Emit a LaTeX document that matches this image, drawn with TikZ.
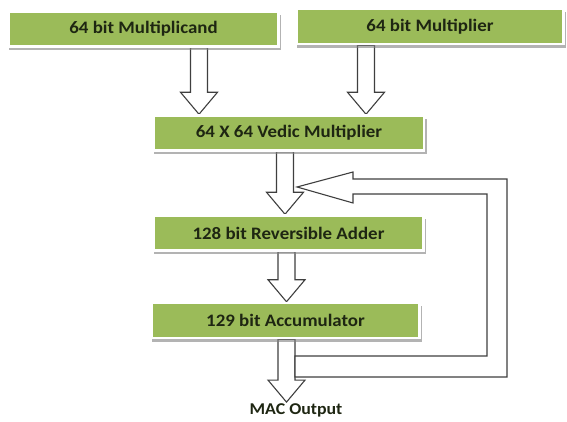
\documentclass[tikz,border=0pt]{standalone}
\usepackage{fontspec}
\setmainfont{Carlito}
\newfontfamily\macfont{Carlito}[FakeStretch=1.08]
\usetikzlibrary{
  calc,
  shadows,
  backgrounds,
  positioning
}
\definecolor{macGreen}{HTML}{9BBB59}
\definecolor{macText}{HTML}{1E2612}
\definecolor{macLine}{HTML}{3F3F3F}
\tikzset{
  macbox/.style={
    draw=white, line width=2.5pt, fill=macGreen, minimum width=270pt, minimum height=35pt,
    font=\macfont\fontsize{17.5}{20}\selectfont\bfseries, text=macText,
    drop shadow={shadow xshift=1.5pt, shadow yshift=-3.5pt, shadow scale=1.01, fill=black!50, opacity=0.6}
  },
  blockarr/.style={
    draw=macLine, line width=1.1pt, fill=white, line join=miter,
    to path={let \p1=(\tikztostart), \p2=(\tikztotarget) in
      (\x1-8.5,\y1) -- (\x1-8.5,\y2+22) -- (\x1-18.5,\y2+22) -- (\x1,\y2)
      -- (\x1+18.5,\y2+22) -- (\x1+8.5,\y2+22) -- (\x1+8.5,\y1) -- cycle}
  },
  fbline/.style={draw=macLine, line width=1.1pt, fill=white, line join=miter},
  outlabel/.style={font=\macfont\fontsize{16.5}{18}\selectfont\bfseries, text=macText, inner sep=1pt}
}

\begin{document}
\begin{tikzpicture}[x=1pt, y=1pt]
  \useasboundingbox (0,0) rectangle (567,421);
  \node[macbox] (mcand) at (143.5,392) {64 bit Multiplicand};
  \node[macbox, minimum width=267pt] (mplier) at (430,394.5) {64 bit Multiplier};
  \node[macbox] (vedic) at (289,288) {64 X 64 Vedic Multiplier};
  \node[macbox] (adder) at (288.5,188) {128 bit Reversible Adder};
  \node[macbox, minimum width=268pt] (accum) at (285.5,100.5) {129 bit Accumulator};
  \node[outlabel] (out) at (296,11) {MAC Output};
  \coordinate (fbtip) at (297,234);
  \coordinate (fbret) at (295,54.5);
  \begin{scope}[on background layer]
    \draw[blockarr] ([xshift=55.5pt]mcand.south) to (vedic.north);
    \draw[blockarr] ([xshift=-64pt]mplier.south) to (vedic.north);
    \draw[blockarr] ([xshift=-4pt]vedic.south) to (adder.north);
    \draw[blockarr] ([xshift=-2pt]adder.south) to (accum.north);
    \draw[blockarr] ([xshift=1pt]accum.south) to (out.north);
  \end{scope}
  % feedback from accumulator back into the adder input
  \draw[fbline] let \p1=(fbtip), \p2=(fbret) in
    (\p1) -- (\x1+56,\y1+15) -- (\x1+56,\y1+8) -- (507,\y1+8) -- (507,\y2-10.5)
    -- (\x2,\y2-10.5) -- (\x2,\y2+10.5) -- (487,\y2+10.5) -- (487,\y1-7)
    -- (\x1+56,\y1-7) -- (\x1+56,\y1-16) -- cycle;
\end{tikzpicture}
\end{document}
